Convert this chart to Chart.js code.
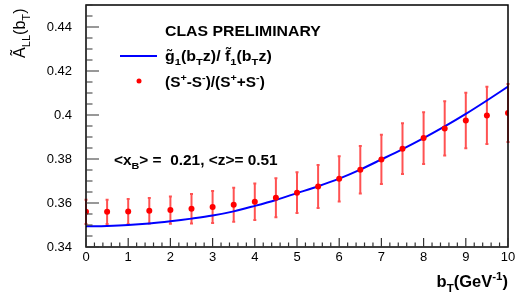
<!DOCTYPE html>
<html>
<head>
<meta charset="utf-8">
<script src="https://cdn.jsdelivr.net/npm/chart.js@4"></script>
<style>
  html, body { margin: 0; padding: 0; background: #fff; }
  #wrap { width: 526px; height: 298px; }
</style>
</head>
<body>
<div id="wrap"><canvas id="alChart" width="526" height="298"></canvas></div>
<script>
// b_T points (GeV^-1)
const bT = [0, 0.5, 1, 1.5, 2, 2.5, 3, 3.5, 4, 4.5, 5, 5.5, 6, 6.5, 7, 7.5, 8, 8.5, 9, 9.5, 10];
// (S+-S-)/(S++S-) points and their errors
const ratioVals = [0.3560, 0.3560, 0.3561, 0.3565, 0.3568, 0.3574, 0.3582, 0.3592, 0.3606, 0.3624, 0.3647,
                   0.3675, 0.3710, 0.3751, 0.3798, 0.3847, 0.3895, 0.3939, 0.3975, 0.3998, 0.4009];
const ratioErr = [0.0055, 0.0055, 0.0057, 0.0058, 0.0062, 0.0067, 0.0073, 0.0077, 0.0083, 0.0089, 0.0093,
                  0.0098, 0.0103, 0.0108, 0.0112, 0.0115, 0.0118, 0.0123, 0.0126, 0.0130, 0.0132];
// g1/f1 curve
const curveVals = [0.3494, 0.3496, 0.3500, 0.3507, 0.3517, 0.3529, 0.3543, 0.3562, 0.3587, 0.3614, 0.3645,
                   0.3676, 0.3711, 0.3752, 0.3798, 0.3845, 0.3895, 0.3948, 0.4005, 0.4066, 0.4129];

const xTicks = [0, 1, 2, 3, 4, 5, 6, 7, 8, 9, 10];
const yTicks = [0.34, 0.36, 0.38, 0.40, 0.42, 0.44];

const FONT = '"Liberation Sans", Arial, sans-serif';

// draw text made of [string, 'n'|'sub'|'sup'] pieces, sx = horizontal stretch
function richText(ctx, parts, x, y, size, bold, sx = 1, draw = true) {
    let cx = 0;
    ctx.save();
    ctx.translate(x, y);
    ctx.scale(sx, 1);
    parts.forEach(([s, mode]) => {
        let fs = size, dy = 0;
        if (mode === 'sub') { fs = size * 0.7; dy = size * 0.3; }
        if (mode === 'sup') { fs = size * 0.7; dy = -size * 0.42; }
        ctx.font = (bold ? 'bold ' : '') + fs + 'px ' + FONT;
        if (draw) ctx.fillText(s, cx, dy);
        cx += ctx.measureText(s).width;
    });
    ctx.restore();
    return cx * sx;
}

const decor = {
    id: 'decor',
    beforeDatasetsDraw(chart) {
        const { ctx, scales: { x, y } } = chart;
        ctx.save();
        // error bars
        ctx.strokeStyle = 'rgba(255,0,0,0.68)';
        ctx.lineWidth = 2;
        bT.forEach((b, i) => {
            const px = x.getPixelForValue(b);
            const top = y.getPixelForValue(ratioVals[i] + ratioErr[i]);
            const bot = y.getPixelForValue(ratioVals[i] - ratioErr[i]);
            ctx.beginPath();
            ctx.moveTo(px, top); ctx.lineTo(px, bot);
            ctx.moveTo(px - 1.5, top); ctx.lineTo(px + 1.5, top);
            ctx.moveTo(px - 1.5, bot); ctx.lineTo(px + 1.5, bot);
            ctx.stroke();
        });
        ctx.restore();
    },
    afterDraw(chart) {
        const { ctx, chartArea: a, scales: { x, y } } = chart;
        ctx.save();
        // frame
        ctx.strokeStyle = '#000';
        ctx.lineWidth = 1.5;
        ctx.strokeRect(a.left, a.top, a.right - a.left, a.bottom - a.top);

        // inward ticks
        ctx.lineWidth = 1.2;
        ctx.strokeStyle = '#333';
        ctx.beginPath();
        for (let k = 0; k <= 50; k++) {
            const px = x.getPixelForValue(k * 0.2);
            const len = k % 5 === 0 ? 9 : 4.5;
            ctx.moveTo(px, a.bottom); ctx.lineTo(px, a.bottom - len);
        }
        for (let k = 0; k <= 22; k++) {
            const py = y.getPixelForValue(0.34 + k * 0.005);
            const len = k % 4 === 0 ? 13 : 6.5;
            ctx.moveTo(a.left, py); ctx.lineTo(a.left + len, py);
        }
        ctx.stroke();

        ctx.fillStyle = '#000';
        ctx.textBaseline = 'alphabetic';
        ctx.textAlign = 'left';

        // legend
        richText(ctx, [['CLAS PRELIMINARY', 'n']], 165, 36, 14, true, 1.13);
        ctx.strokeStyle = '#0000ff';
        ctx.lineWidth = 2;
        ctx.beginPath(); ctx.moveTo(120, 56); ctx.lineTo(157, 56); ctx.stroke();
        richText(ctx, [['g\u0303', 'n'], ['1', 'sub'], ['(b', 'n'], ['T', 'sub'], ['z)/ ', 'n'],
                       ['f\u0303', 'n'], ['1', 'sub'], ['(b', 'n'], ['T', 'sub'], ['z)', 'n']], 165, 61, 14, true, 1.14);
        ctx.fillStyle = '#ff0000';
        ctx.beginPath(); ctx.arc(139, 81, 2.5, 0, Math.PI * 2); ctx.fill();
        ctx.fillStyle = '#000';
        richText(ctx, [['(S', 'n'], ['+', 'sup'], ['-S', 'n'], ['-', 'sup'], [')/(S', 'n'], ['+', 'sup'],
                       ['+S', 'n'], ['-', 'sup'], [')', 'n']], 165, 87, 14, true, 1.1);

        // kinematics label
        richText(ctx, [['<x', 'n'], ['B', 'sub'], ['> =  0.21, <z>= 0.51', 'n']], 114, 165, 14, true, 1.1);

        // x title, right aligned
        const xt = [['b', 'n'], ['T', 'sub'], ['(GeV', 'n'], ['-1', 'sup'], [')', 'n']];
        const w = richText(ctx, xt, 0, 0, 16.5, true, 1, false);
        richText(ctx, xt, a.right - w, 287, 16.5, true);

        // y title rotated
        ctx.translate(25, 58);
        ctx.rotate(-Math.PI / 2);
        richText(ctx, [['\u00C3', 'n'], ['LL', 'sub'], ['(b', 'n'], ['T', 'sub'], [')', 'n']], 0, 0, 16, false);
        ctx.restore();
    }
};

new Chart(document.getElementById('alChart'), {
    type: 'scatter',
    data: {
        datasets: [{
            data: bT.map((b, i) => ({ x: b, y: ratioVals[i] })),
            backgroundColor: '#ff0000',
            borderColor: '#ff0000',
            pointRadius: 3,
            pointBorderWidth: 0,
            showLine: false
        }, {
            data: bT.map((b, i) => ({ x: b, y: curveVals[i] })),
            borderColor: '#0000ff',
            borderWidth: 2,
            pointRadius: 0,
            showLine: true,
            cubicInterpolationMode: 'monotone'
        }]
    },
    plugins: [decor],
    options: {
        responsive: false,
        animation: false,
        layout: { padding: { top: 5, right: 18, left: 0, bottom: 0 } },
        plugins: { legend: { display: false }, tooltip: { enabled: false } },
        scales: {
            x: {
                type: 'linear', min: 0, max: 10,
                afterBuildTicks: s => { s.ticks = xTicks.map(v => ({ value: v })); },
                afterFit: s => { s.height = 51; s.paddingLeft = 0; s.paddingRight = 0; },
                grid: { display: false },
                border: { display: false },
                ticks: {
                    autoSkip: false, maxRotation: 0, padding: -5, color: '#000',
                    font: { family: FONT, size: 13 },
                    callback: v => String(v)
                }
            },
            y: {
                type: 'linear', min: 0.34, max: 0.45,
                afterBuildTicks: s => { s.ticks = yTicks.map(v => ({ value: v })); },
                afterFit: s => { s.width = 86; s.paddingTop = 0; s.paddingBottom = 0; },
                grid: { display: false },
                border: { display: false },
                ticks: {
                    padding: 6, color: '#000',
                    font: { family: FONT, size: 13 },
                    callback: v => String(+v.toFixed(2))
                }
            }
        }
    }
});
</script>
</body>
</html>
